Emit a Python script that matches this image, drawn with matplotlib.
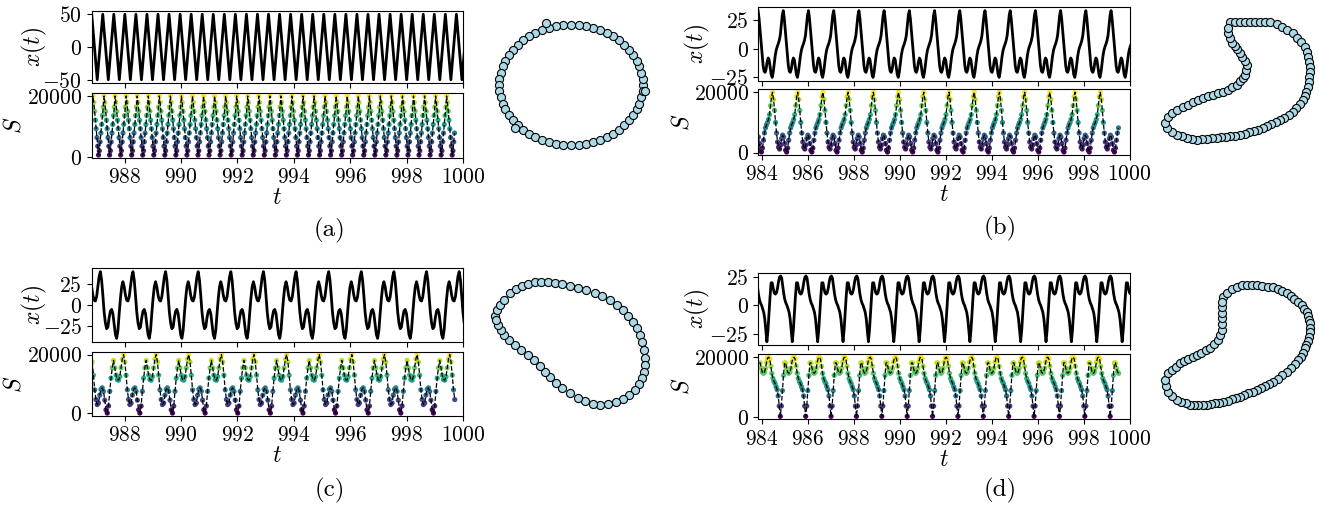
import numpy as np
import matplotlib
matplotlib.use("Agg")
import matplotlib.pyplot as plt

plt.rcParams['font.family'] = 'cmr10'
plt.rcParams['mathtext.fontset'] = 'cm'
plt.rcParams['axes.formatter.use_mathtext'] = True
plt.rcParams['font.size'] = 16

W, H = 1319, 508

# ---------------- data ----------------
# x(t): one period of the signal (uniform phase samples, first sample = crest/trough)
xa_cycle = [50, -49]
xa_period, xa_first = 0.392, 986.83
xb_cycle = [33.5, 26.5, 16, 4.4, -5.9, -14.7, -19.7, -20.6, -17.6, -11.2, -8, -9.7, -16,
            -22.5, -25, -20.6, -13, -6, -1, 2, 4.4, 7.4, 11.8, 20.6, 29.4]
xb_period, xb_first = 1.097, 983.84
xc_cycle = [40, 30, 12, -8, -21, -28, -26, -15, -7, -5, -10, -22, -35, -39.5, -30, -10, 8,
            22, 28, 22, 12, 6, 5, 10, 22, 34]
xc_period, xc_first = 1.157, 985.98
xd_cycle = [-32, -22, -7, 8, 20, 20, 15, 11, 10, 11, 15, 21, 25, 26, 24, 17, 10, 5, 2, 0,
            -3, -6, -12, -22]
xd_period, xd_first = 1.104, 983.12

# S: one period of the sampled series
Sa_cycle = [20000, 17900, 15000, 12100, 9300, 6400, 3600, 700, 2100, 5000, 7900, 10700,
            13600, 16400]
Sa_period, Sa_ref, Sa_end = 0.392, 999.42, 999.70
Sb_cycle = [20000, 17600, 14000, 10000, 6500, 3500, 1800, 1200, 2500, 4700, 5800, 5200,
            3000, 800, 200, 1500, 4100, 6500, 8200, 9200, 10000, 11000, 12600, 15600, 18600]
Sb_period, Sb_ref, Sb_end = 1.097, 998.73, 999.56
Sc_cycle = [20000, 17500, 13000, 8000, 4700, 3000, 3500, 6200, 8200, 8700, 7500, 4500,
            1200, 100, 2500, 7500, 12000, 15500, 18000, 15500, 13000, 11500, 11300, 12500,
            15500, 18500]
Sc_period, Sc_ref, Sc_end = 1.157, 999.53, 999.71
Sd_cycle = [150, 3600, 8800, 13900, 18100, 18100, 16300, 15000, 14600, 15000, 16300, 18400,
            19800, 20000, 19400, 17000, 14600, 12900, 11900, 11200, 10100, 9100, 7000, 3600]
Sd_period, Sd_ref, Sd_end = 1.104, 999.16, 999.56

t_left_ac, t_left_bd = 986.83, 983.85
xticks_ac = [988, 990, 992, 994, 996, 998, 1000]
xticks_bd = [984, 986, 988, 990, 992, 994, 996, 998, 1000]
yticks_x = {'a': [-50, 0, 50], 'b': [-25, 0, 25], 'c': [-25, 0, 25], 'd': [-25, 0, 25]}
yticks_S = [0, 20000]

# latent loops (positions)
loop_a_x = [72, 72, 70, 68, 66, 62, 58, 53, 48, 42, 36, 29, 22, 15, 8, 0, -8, -15, -22, -29,
            -36, -42, -48, -53, -58, -62, -66, -68, -70, -72, -72, -72, -70, -68, -66, -62,
            -58, -53, -48, -42, -36, -29, -22, -15, -8, 0, 8, 15, 22, 29, 36, 42, 48, 53, 58,
            62, 66, 68, 70, 72, -25, 74, -56]
loop_a_y = [0, 6, 12, 19, 24, 30, 35, 40, 45, 49, 52, 55, 57, 59, 60, 60, 60, 59, 57, 55, 52,
            49, 45, 40, 35, 30, 24, 19, 12, 6, 0, -6, -12, -19, -24, -30, -35, -40, -45, -49,
            -52, -55, -57, -59, -60, -60, -60, -59, -57, -55, -52, -49, -45, -40, -35, -30,
            -24, -19, -12, -6, 62, -6, -43]
loop_b_x = [70, 75, 80, 85, 90, 95, 100, 105, 110, 117, 122, 127, 133, 137, 141, 145, 147, 148,
            149, 150, 150, 149, 149, 148, 146, 145, 143, 140, 136, 133, 129, 124, 120, 116,
            111, 107, 103, 98, 94, 89, 85, 80, 75, 70, 66, 61, 57, 52, 47, 42, 37, 32, 27, 22,
            17, 12, 7, 5, 8, 12, 17, 23, 28, 33, 38, 43, 48, 53, 58, 63, 68, 72, 77, 80, 83,
            85, 86, 87, 85, 82, 80, 77, 75, 72, 70, 68, 68]
loop_b_y = [120, 120, 120, 120, 120, 120, 120, 120, 120, 118, 115, 112, 109, 104, 100, 95, 90,
            85, 80, 75, 70, 65, 60, 55, 50, 46, 42, 38, 34, 30, 27, 24, 22, 20, 18, 16, 14, 12,
            11, 10, 8, 7, 6, 5.5, 5, 4.5, 4, 3.5, 3, 2.5, 2, 3, 4, 5.5, 7, 10, 14, 19, 25, 29,
            32, 35, 37, 40, 42, 44, 45.5, 47, 48.5, 50, 52, 54.5, 57, 61, 64, 67, 72, 77, 81,
            85, 89, 93, 96, 99, 104, 109, 114]
loop_c_x = [5, 7, 10, 14, 20, 26, 32, 38, 45, 51, 58, 65, 72, 80, 88, 96, 105, 112, 120, 127,
            133, 138, 143, 147, 150, 152, 154, 155, 155, 154, 152, 149, 145, 139, 133, 126,
            118, 110, 103, 95, 88, 80, 72, 66, 60, 55, 50, 44, 38, 31, 25, 19, 14, 11, 8, 6]
loop_c_y = [94, 100, 105, 110, 117, 121, 124, 126, 128, 128, 128, 127, 126, 124, 122, 120,
            117, 114, 110, 105, 100, 94, 88, 82, 75, 68, 60, 52, 45, 38, 32, 26, 20, 15, 11,
            8, 6, 5.5, 6, 9, 12, 17, 22, 27, 33, 38, 44, 50, 55, 60, 65, 70, 75, 80, 85, 90]
loop_d_x = [62.7, 67, 71.7, 76.5, 81.7, 86.7, 91.7, 96.7, 102, 108, 113.3, 117.8, 122.3,
            126.7, 130.5, 134.4, 138.3, 141.5, 144, 146.7, 148, 149, 150, 150, 149.8, 149,
            147.5, 146, 145, 142.5, 140.5, 138.3, 134.5, 130.5, 126.7, 122, 117.5, 113.3, 109,
            105, 101, 96.7, 92.5, 88.3, 84, 80, 76, 71.7, 67.5, 63.3, 59, 55, 51, 46.7, 42.5,
            38.3, 34, 30, 25.5, 21, 16.7, 12.3, 8, 6, 5, 8, 12, 16, 20, 24, 28.3, 32.5, 36.7,
            41, 45.5, 50, 54, 58, 60, 62, 62, 62, 62, 62, 62.3]
loop_d_y = [112.7, 117, 120.7, 123, 125, 125, 125, 125, 124.5, 123.5, 122.7, 121, 119, 117,
            114, 111, 108.3, 105, 101.5, 98.3, 94, 90.5, 87, 82.5, 78, 73.3, 69, 65.5, 62,
            57.5, 53.5, 50, 46, 42, 38.3, 35, 31.5, 28.3, 26, 24, 22, 20, 18.3, 16.7, 15, 13.3,
            12, 10.8, 9.5, 8.3, 7.5, 6.6, 5.8, 5, 5, 5, 5, 5, 6.7, 8.3, 10, 14, 18.3, 24, 30,
            37, 40, 43.5, 46.7, 48.8, 51, 53, 55, 57.3, 59.7, 62, 66, 70, 75, 80, 86, 92, 97.5,
            103, 108]


def px_rect(x0, y0, x1, y1):
    return [x0 / W, 1 - y1 / H, (x1 - x0) / W, (y1 - y0) / H]


def periodic(cycle, period, first, t_max):
    n = int(np.ceil((t_max - first) / period)) + 1
    vals = np.tile(np.asarray(cycle, float), n)
    t = first + np.arange(vals.size) * period / len(cycle)
    return t, vals


def sampled(cycle, period, ref, t_left, t_end):
    k0 = int(np.ceil((ref - t_left) / period)) + 1
    t, vals = periodic(cycle, period, ref - k0 * period, t_end + period)
    keep = (t >= t_left - 1e-9) & (t <= t_end + 1e-9)
    return t[keep], vals[keep]


fig = plt.figure(figsize=(W / 100, H / 100), dpi=100)

panels = [
    ('a', xa_cycle, xa_period, xa_first, Sa_cycle, Sa_period, Sa_ref, Sa_end, t_left_ac,
     xticks_ac, (91.7, 11, 463, 83), (91.7, 93, 463, 158), (34.5, 14)),
    ('b', xb_cycle, xb_period, xb_first, Sb_cycle, Sb_period, Sb_ref, Sb_end, t_left_bd,
     xticks_bd, (758.3, 7.3, 1129.5, 80.7), (758.3, 89.3, 1129.5, 155), (697, 682)),
    ('c', xc_cycle, xc_period, xc_first, Sc_cycle, Sc_period, Sc_ref, Sc_end, t_left_ac,
     xticks_ac, (91.7, 268.3, 463, 341.7), (91.7, 351.7, 463, 416), (34.5, 14)),
    ('d', xd_cycle, xd_period, xd_first, Sd_cycle, Sd_period, Sd_ref, Sd_end, t_left_bd,
     xticks_bd, (758.3, 272.7, 1129.5, 345), (758.3, 354.3, 1129.5, 419.3), (697, 682)),
]

for (name, xc, xp, xf, Sc, Sp, Sr, Se, tl, xt, rtop, rbot, labx) in panels:
    ax1 = fig.add_axes(px_rect(*rtop))
    ax2 = fig.add_axes(px_rect(*rbot), sharex=ax1)
    t, x = periodic(xc, xp, xf, 1000.5)
    ax1.plot(t, x, color='k', lw=2)
    ax1.set_yticks(yticks_x[name])
    ax1.tick_params(labelbottom=False, labelsize=15.5)

    ts, S = sampled(Sc, Sp, Sr, tl, Se)
    ax2.scatter(ts, S, c=S, cmap='viridis', vmin=0, vmax=20000, s=14, edgecolors='none',
                zorder=2)
    ax2.plot(ts, S, color='k', ls='--', lw=0.9, zorder=3)
    ax2.set_yticks(yticks_S)
    ax2.set_xticks(xt)
    ax2.set_xlim(tl, 1000)
    ax2.set_xlabel(r'$t$', fontsize=17, labelpad=0)
    ax2.tick_params(labelsize=15.5)

    wpx = rtop[2] - rtop[0]
    for ax, txt, cx in ((ax1, r'$x(t)$', labx[0]), (ax2, r'$S$', labx[1])):
        ax.set_ylabel(txt, fontsize=17, va='center')
        ax.yaxis.set_label_coords((cx - rtop[0]) / wpx, 0.5)

loops = [
    (loop_a_x, loop_a_y, (490, 15, 650, 155), (-80.5, 79.5), (-70, 70)),
    (loop_b_x, loop_b_y, (1150, 10, 1319, 150), (-10, 159), (-8, 132)),
    (loop_c_x, loop_c_y, (485, 270, 655, 415), (-5, 165), (-5, 140)),
    (loop_d_x, loop_d_y, (1150, 275, 1319, 415), (-10, 159), (-5, 135)),
]
for lx, ly, r, xl, yl in loops:
    ax = fig.add_axes(px_rect(*r))
    ax.scatter(lx, ly, s=34, facecolor='#add8e6', edgecolor='k', linewidths=0.8)
    ax.set_xlim(*xl)
    ax.set_ylim(*yl)
    ax.axis('off')

for lab, (px, py) in zip(['(a)', '(b)', '(c)', '(d)'],
                         [(330, 230), (1000, 228), (330, 490), (1000, 490)]):
    fig.text(px / W, 1 - py / H, lab, fontsize=18, ha='center', va='center')

fig.savefig('out.png', dpi=100)
